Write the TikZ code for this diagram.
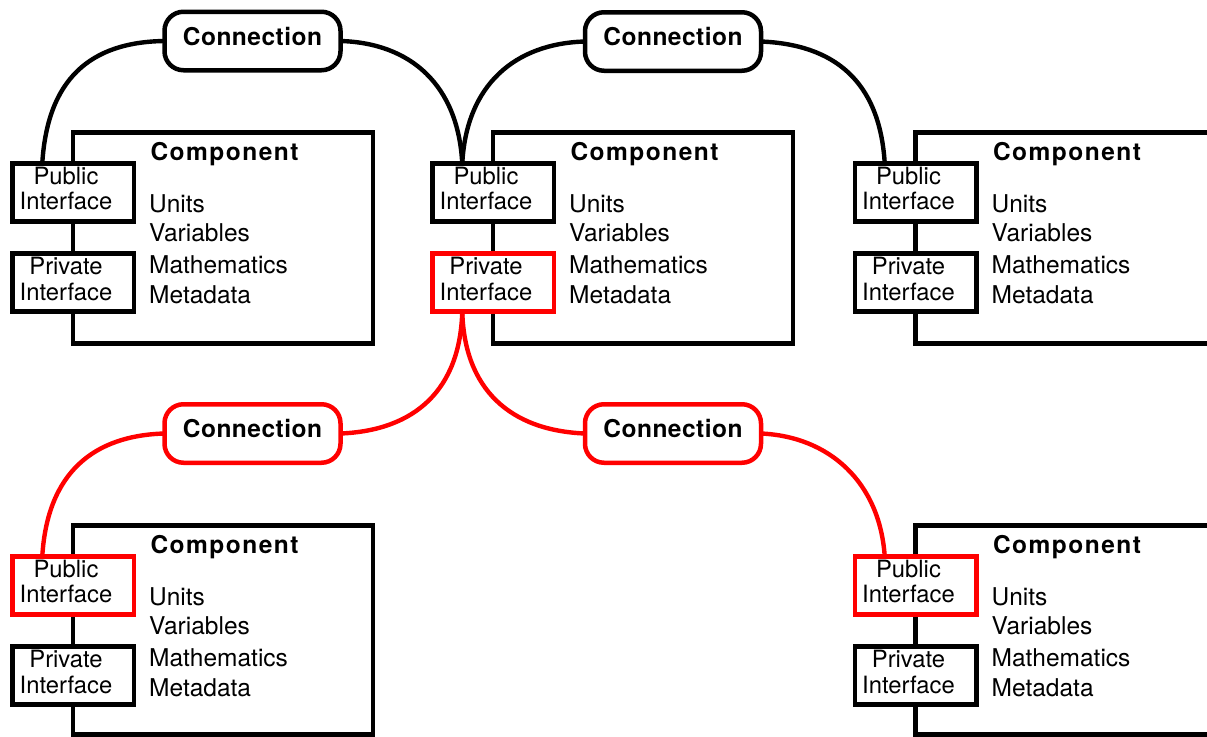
\documentclass[tikz,border=0pt]{standalone}
\usepackage{fontspec}
\setmainfont{TeX Gyre Heros}
\newfontfamily\titlefont[LetterSpace=6]{TeX Gyre Heros}
\newfontfamily\connfont[LetterSpace=2]{TeX Gyre Heros}
\tikzset{
  compbox/.style={draw=black, line width=4.6pt, fill=white, inner sep=0pt, outer sep=0pt, anchor=north west},
  ifbox/.style={draw=#1, line width=4.6pt, fill=white, inner sep=0pt, outer sep=0pt, minimum width=121.5pt, minimum height=58pt},
  ifbox/.default=black,
  iftext/.style={inner sep=0pt, anchor=base, font=\fontsize{23.8}{25}\selectfont},
  listtext/.style={inner sep=0pt, anchor=base west, font=\fontsize{24.5}{30}\selectfont},
  titletext/.style={inner sep=0pt, anchor=base, font=\titlefont\bfseries\fontsize{24.5}{28}\selectfont},
  pill/.style={draw=#1, line width=4.5pt, fill=white, rounded corners=19pt, inner sep=0pt, outer sep=0pt,
    minimum width=176pt, minimum height=58.5pt, text height=17.5pt, text depth=9pt,
    font=\connfont\bfseries\fontsize{24.5}{28}\selectfont},
  pill/.default=black,
  conn/.style={draw=#1, line width=4.4pt},
  conn/.default=black,
}
% #1 prefix, #2 left x, #3 top y, #4 height, #5 public colour, #6 private colour
\newcommand\mycomp[6]{%
  \node[compbox, minimum width=300pt, minimum height=#4pt] (#1) at (#2,#3) {};
  \node[ifbox=#5] (#1pub) at (#2+0.25,#3+60.25) {};
  \node[ifbox=#6] (#1priv) at (#2+0.25,#3+149.75) {};
  \node[iftext] (#1pubA) at (#2-7,#3+51.75) {Public};
  \node[iftext] (#1pubB) at (#2-7,#3+76.75) {Interface};
  \node[iftext] (#1privA) at (#2-7,#3+142.25) {Private};
  \node[iftext] (#1privB) at (#2-7,#3+168.25) {Interface};
  \node[titletext] (#1title) at (#2+151.5,#3+28) {Component};
  \node[listtext] (#1u) at (#2+76,#3+79.5) {Units};
  \node[listtext] (#1v) at (#2+76,#3+109) {Variables};
  \node[listtext] (#1m) at (#2+76,#3+140.5) {Mathematics};
  \node[listtext] (#1d) at (#2+76,#3+170.5) {Metadata};
}
\begin{document}
\begin{tikzpicture}[x=1pt,y=-1pt]
\useasboundingbox (0,0) rectangle (1207,736);
\clip (0,0) rectangle (1207,736);
\mycomp{a}{73}{132.5}{211}{black}{black}
\mycomp{b}{493}{132.5}{211}{black}{red}
\mycomp{c}{915.5}{132.5}{211}{black}{black}
\mycomp{d}{73}{525.5}{209}{red}{black}
\mycomp{e}{915.5}{525.5}{209}{red}{black}

\node[pill] (k1) at (252.5,41) {Connection};
\node[pill] (k2) at (673,41.5) {Connection};
\node[pill=red] (k3) at (252.5,433.5) {Connection};
\node[pill=red] (k4) at (673,433.5) {Connection};

\draw[conn] ([xshift=-31pt]apub.north) .. controls +(5,-84) and +(-75,1) .. (k1.west);
\draw[conn] (k1.east) .. controls +(70,2) and +(-4,-79) .. ([xshift=-31pt]bpub.north);
\draw[conn] ([xshift=-31pt]bpub.north) .. controls +(4,-79) and +(-70,2) .. (k2.west);
\draw[conn] (k2.east) .. controls +(72,3) and +(-5,-84) .. ([xshift=-31pt]cpub.north);

\draw[conn=red] ([xshift=-31pt]bpriv.south) .. controls +(-2,78) and +(75,-3) .. (k3.east);
\draw[conn=red] ([xshift=-31pt]bpriv.south) .. controls +(2,78) and +(-75,-3) .. (k4.west);
\draw[conn=red] (k3.west) .. controls +(-70,2) and +(5,-85) .. ([xshift=-31pt]dpub.north);
\draw[conn=red] (k4.east) .. controls +(68,3) and +(-5,-75) .. ([xshift=-31pt]epub.north);
\end{tikzpicture}
\end{document}
